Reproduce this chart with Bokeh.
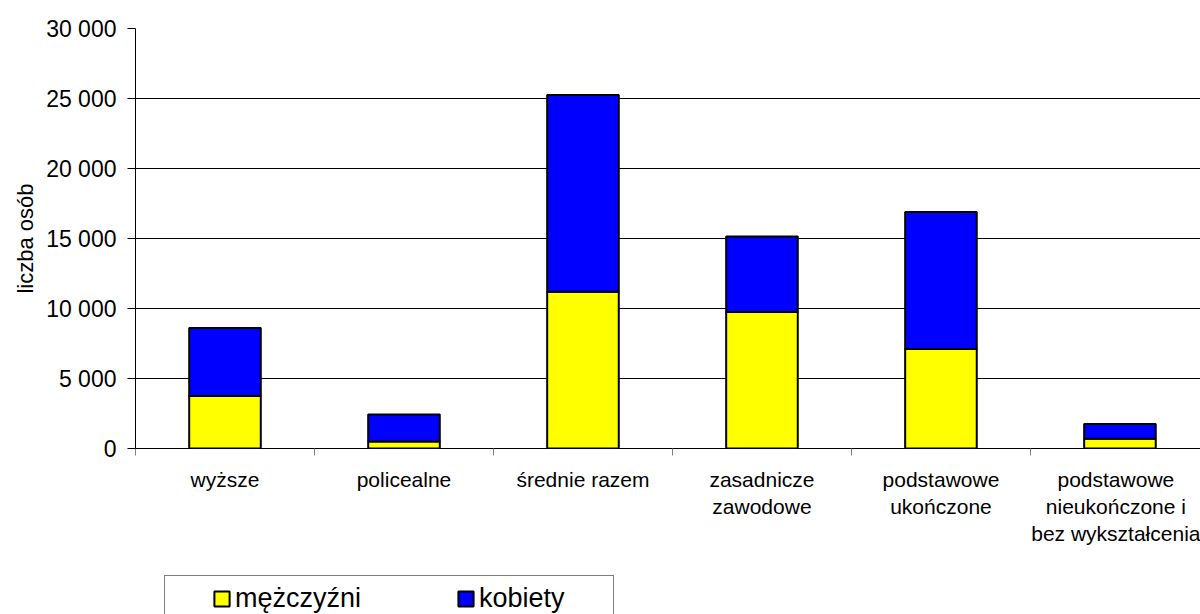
from bokeh.plotting import figure
from bokeh.layouts import column
from bokeh.models import FixedTicker, Legend, LegendItem, Range1d, ColumnDataSource, Title
from bokeh.embed import file_html
from bokeh.resources import INLINE

categories = ["wyższe", "policealne", "średnie razem", "zasadnicze\nzawodowe",
              "podstawowe\nukończone", "podstawowe\nnieukończone i\nbez wykształcenia"]
men = [3750, 500, 11200, 9750, 7100, 700]
women = [4850, 1930, 14050, 5400, 9800, 1050]
series_names = ["mężczyźni", "kobiety"]
series_colors = ["#FFFF00", "#0000FF"]
y_ticks = [0, 5000, 10000, 15000, 20000, 25000, 30000]
y_tick_labels = ["0", "5 000", "10 000", "15 000", "20 000", "25 000", "30 000"]
y_title = "liczba osób"

FONT = "Liberation Sans"

n = len(categories)
xs = [i + 0.5 for i in range(n)]
src = ColumnDataSource(dict(x=xs, men=men, women=women))

p = figure(width=1200, height=573, output_backend="svg", toolbar_location=None,
           x_range=Range1d(0, 5.95), y_range=Range1d(0, 30000),
           min_border_left=135, min_border_right=0, min_border_top=28, min_border_bottom=125)
p.outline_line_color = None

rs = p.vbar_stack(["men", "women"], x="x", width=0.4, source=src,
                  fill_color=series_colors, line_color="black", line_width=2)

# x axis
xa = p.xaxis[0]
xa.ticker = FixedTicker(ticks=xs, minor_ticks=list(range(n + 1)))
xa.major_label_overrides = {x: c for x, c in zip(xs, categories)}
xa.major_tick_out = 0
xa.major_tick_in = 0
xa.minor_tick_in = 0
xa.minor_tick_out = 7
xa.minor_tick_line_color = "#808080"
xa.axis_line_color = "black"
xa.major_label_text_font = FONT
xa.major_label_text_font_size = "21px"
xa.major_label_text_color = "black"
xa.major_label_standoff = 12
xa.major_label_text_line_height = 1.18
p.xgrid.visible = False

# y axis
ya = p.yaxis[0]
ya.ticker = FixedTicker(ticks=y_ticks, minor_ticks=[])
ya.major_label_overrides = {v: l for v, l in zip(y_ticks, y_tick_labels)}
ya.major_tick_out = 8
ya.major_tick_in = 0
ya.major_tick_line_color = "black"
ya.axis_line_color = "black"
ya.major_label_text_font = FONT
ya.major_label_text_font_size = "23px"
ya.major_label_text_color = "black"
ya.major_label_standoff = 11
p.ygrid.grid_line_color = "black"
p.ygrid.grid_line_width = 1

p.add_layout(Title(text=y_title, align="center", offset=14, standoff=12,
                   text_font=FONT, text_font_size="22px", text_font_style="normal",
                   text_color="black"), "left")

# legend strip below the chart (its frame is aligned with the chart's frame)
q = figure(width=1200, height=41, output_backend="svg", toolbar_location=None,
           x_range=Range1d(0, 1200), y_range=Range1d(0, 40),
           min_border_left=0, min_border_right=0, min_border_top=0, min_border_bottom=0)
q.outline_line_color = None
q.axis.visible = False
q.grid.visible = False
lr = [q.vbar(x=[600], top=[20], width=1, fill_color=c, line_color="black",
             line_width=2, visible=False)
      for c in series_colors]

legend = Legend(items=[LegendItem(label=s, renderers=[r]) for s, r in zip(series_names, lr)],
                orientation="horizontal", location=(29, -8), padding=7,
                spacing=94, label_width=127, glyph_width=19, glyph_height=19,
                label_standoff=4, border_line_color="black", border_line_width=1,
                label_text_font=FONT, label_text_font_size="27px", label_text_color="black",
                inactive_fill_alpha=0.0,
                title=" ", title_location="left", title_standoff=39,
                title_text_font_size="1px")
q.add_layout(legend)

open("out.html", "w").write(file_html(column(p, q, spacing=0), INLINE))
